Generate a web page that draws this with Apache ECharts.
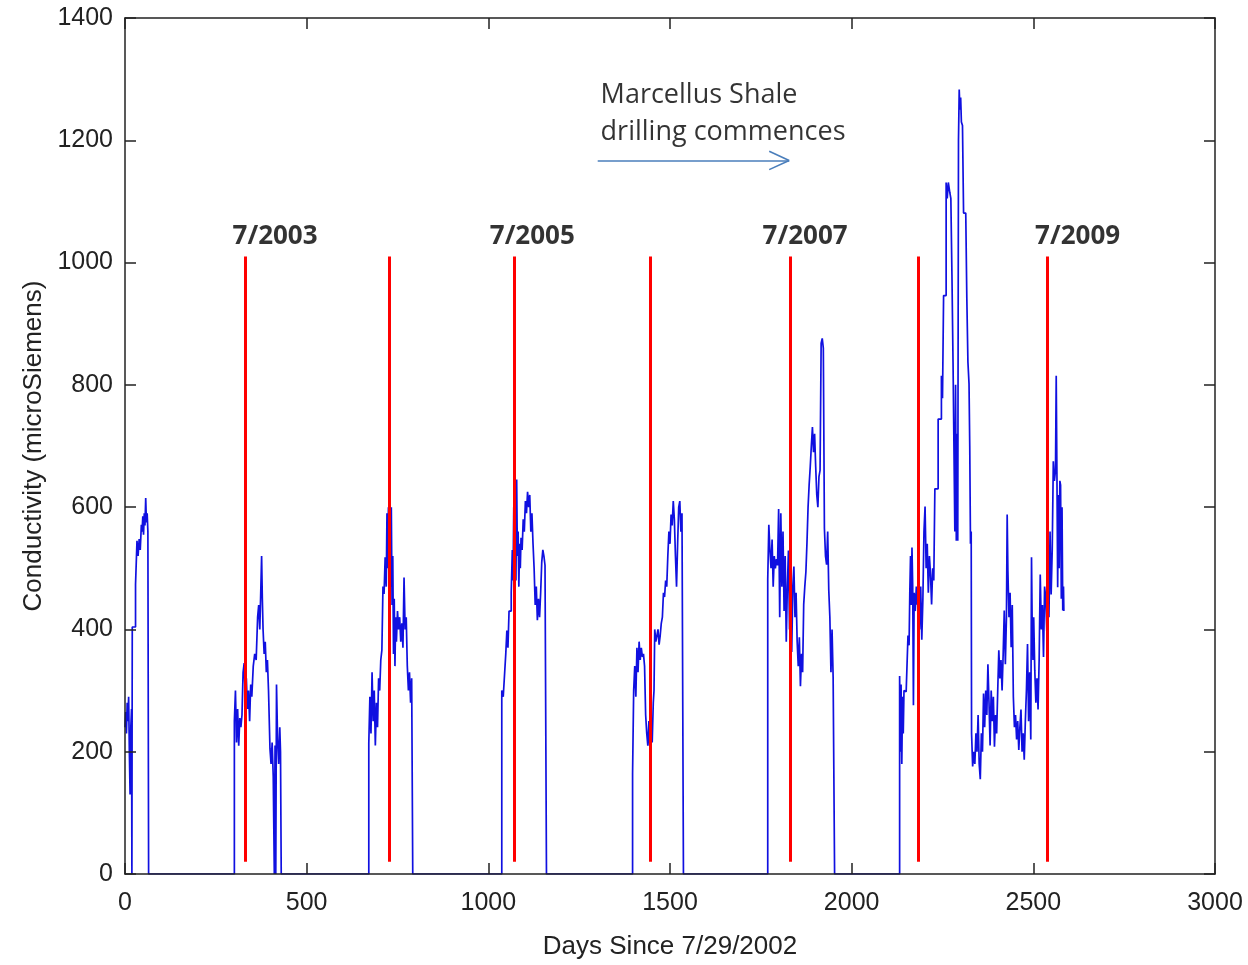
<!DOCTYPE html>
<html>
<head>
<meta charset="utf-8">
<script src="https://cdn.jsdelivr.net/npm/echarts@6.0.0/dist/echarts.min.js"></script>
<style>
  html, body { margin: 0; padding: 0; background: #ffffff; }
  #chart { width: 1248px; height: 965px; }
</style>
</head>
<body>
<div id="chart"></div>
<script>
// ---------------- DATA ----------------
// Each segment: [day since 7/29/2002, conductivity (microSiemens)]
const segment1 = [[0,240],[2,265],[4,230],[6,280],[8,250],[10,290],[12,200],[14,130],[16,240],[18,270],[19,0],[20,404],[29,474],[33,545],[36,520],[39,548],[42,530],[45,571],[47,560],[49,585],[51,555],[53,590],[55,570],[57,615],[59,575],[61,590],[63,560],[65,0]];
const segment2 = [[301,250],[304,300],[307,215],[310,270],[313,210],[316,255],[319,240],[322,260],[325,330],[328,345],[331,290],[334,320],[337,270],[340,300],[343,250],[346,310],[349,290],[353,340],[357,360],[361,350],[365,420],[368,440],[371,400],[374,470],[376,520],[378,450],[380,400],[383,360],[386,380],[389,330],[392,350],[395,300],[399,205],[402,180],[405,215],[408,160],[411,0],[413,210],[415,0],[417,310],[420,220],[423,180],[426,240],[428,200],[430,0]];
const segment3 = [[671,214],[674,290],[677,230],[680,330],[683,250],[686,300],[689,210],[692,280],[695,240],[698,320],[701,300],[704,350],[707,366],[710,470],[713,458],[716,518],[719,470],[721,590],[723,500],[725,600],[727,420],[729,560],[731,470],[733,600],[735,440],[737,520],[739,360],[741,450],[743,340],[745,420],[747,380],[750,430],[753,400],[756,420],[759,380],[762,410],[765,370],[768,485],[771,400],[774,420],[777,340],[780,300],[783,330],[786,280],[789,320],[792,0]];
const segment4 = [[1037,300],[1041,290],[1045,330],[1048,360],[1051,398],[1054,370],[1057,430],[1060,430],[1063,460],[1066,530],[1068,480],[1070,600],[1072,500],[1074,620],[1076,480],[1078,645],[1080,520],[1082,560],[1084,470],[1086,540],[1088,500],[1090,550],[1093,530],[1096,580],[1099,560],[1102,610],[1105,590],[1108,625],[1111,600],[1114,620],[1117,560],[1120,590],[1123,540],[1126,500],[1129,440],[1132,470],[1135,415],[1138,450],[1141,420],[1144,460],[1147,510],[1150,530],[1153,520],[1156,505],[1160,0]];
const segment5 = [[1397,164],[1400,300],[1403,340],[1406,290],[1409,370],[1412,330],[1415,380],[1418,350],[1421,370],[1424,355],[1427,360],[1430,340],[1433,260],[1436,230],[1439,210],[1442,250],[1445,200],[1448,240],[1451,215],[1454,280],[1456,300],[1458,400],[1461,380],[1464,390],[1467,400],[1470,375],[1473,390],[1476,410],[1479,420],[1482,460],[1485,453],[1488,480],[1491,470],[1494,520],[1497,560],[1500,540],[1503,588],[1506,570],[1509,610],[1512,580],[1515,520],[1518,470],[1521,540],[1524,600],[1527,610],[1530,560],[1533,590],[1537,0]];
const segment6 = [[1769,482],[1772,571],[1775,530],[1778,500],[1781,547],[1784,470],[1787,520],[1790,500],[1793,515],[1796,505],[1799,597],[1802,420],[1805,590],[1808,470],[1811,560],[1814,430],[1817,520],[1820,380],[1823,470],[1826,529],[1829,400],[1832,480],[1835,363],[1838,470],[1841,503],[1844,420],[1847,460],[1850,380],[1853,340],[1856,387],[1859,307],[1862,360],[1865,330],[1868,441],[1871,470],[1874,494],[1877,542],[1880,600],[1883,637],[1886,666],[1889,700],[1892,731],[1895,690],[1898,720],[1901,666],[1904,620],[1907,600],[1910,650],[1913,660],[1916,868],[1919,876],[1922,860],[1925,565],[1928,520],[1931,506],[1934,560],[1937,464],[1940,420],[1943,330],[1946,400],[1949,322],[1953,0]];
const segment7 = [[2132,324],[2134,200],[2136,310],[2138,180],[2140,290],[2142,230],[2144,300],[2146,298],[2150,298],[2155,390],[2158,374],[2160,460],[2162,520],[2164,440],[2166,534],[2168,470],[2170,276],[2172,460],[2175,430],[2178,470],[2181,440],[2184,500],[2187,400],[2190,470],[2193,383],[2196,450],[2199,560],[2202,601],[2205,500],[2208,540],[2211,460],[2214,520],[2217,490],[2220,441],[2223,500],[2226,480],[2229,630],[2234,630],[2238,744],[2243,744],[2247,815],[2250,778],[2253,946],[2256,946],[2260,1131],[2263,1105],[2266,1131],[2270,1115],[2273,1105],[2276,980],[2279,837],[2282,837],[2284,560],[2286,800],[2288,545],[2290,720],[2292,545],[2294,1200],[2296,1283],[2298,1250],[2300,1270],[2302,1230],[2305,1224],[2308,1081],[2311,1081],[2314,1081],[2317,940],[2320,837],[2323,802],[2325,700],[2327,540],[2329,560],[2330,230],[2333,176],[2336,200],[2339,180],[2342,230],[2345,200],[2348,260],[2351,180],[2354,155],[2357,230],[2360,200],[2363,295],[2366,240],[2369,300],[2372,260],[2375,343],[2378,280],[2381,210],[2384,300],[2387,250],[2390,290],[2393,208],[2396,260],[2399,230],[2402,300],[2405,366],[2408,320],[2411,350],[2414,300],[2417,360],[2420,431],[2423,343],[2426,420],[2428,588],[2430,496],[2433,420],[2436,460],[2439,371],[2442,440],[2445,290],[2448,240],[2451,260],[2454,220],[2457,250],[2460,203],[2463,240],[2466,269],[2469,200],[2472,230],[2475,187],[2478,250],[2481,300],[2484,376],[2487,250],[2490,330],[2493,220],[2495,518],[2497,400],[2499,350],[2501,420],[2504,333],[2507,280],[2510,320],[2513,269],[2516,350],[2519,490],[2522,400],[2525,440],[2528,355],[2531,470],[2534,452],[2537,398],[2540,430],[2543,420],[2546,560],[2549,457],[2552,530],[2555,675],[2558,643],[2561,660],[2563,815],[2565,650],[2567,469],[2569,620],[2571,500],[2573,643],[2575,636],[2577,450],[2579,600],[2581,431],[2583,470],[2584,430]];

// Red vertical marker lines (days) and their vertical extent (microSiemens)
const redLineDays = [330, 728, 1070, 1445, 1831, 2184, 2537];
const redLineRange = [20, 1010];

// Year annotations
const yearLabels = ['7/2003', '7/2005', '7/2007', '7/2009'];
const yearLabelDays = [413, 1121, 1872, 2622];
const yearLabelLevel = 1043;

// "Marcellus Shale drilling commences" annotation and arrow
const noteText = 'Marcellus Shale\ndrilling commences';
const notePoint = [1309, 1243];
const arrowFrom = [1301, 1167];
const arrowTo = [1828, 1167];
const arrowHead = [55, 15]; // back-length (days), half-spread (microSiemens)

// Axes
const xTicks = [0, 500, 1000, 1500, 2000, 2500, 3000];
const yTicks = [0, 200, 400, 600, 800, 1000, 1200, 1400];

// ---------------- CHART ----------------
const conductivity = [].concat(segment1, segment2, segment3, segment4, segment5, segment6, segment7);

const axisColor = '#222222';
const tickFont = { fontFamily: 'Liberation Sans', fontSize: 25, color: '#222222', formatter: v => String(v) };

const redLines = redLineDays.map(d => [
  { coord: [d, redLineRange[0]] },
  { coord: [d, redLineRange[1]] }
]);

const arrowLines = [
  [{ coord: arrowFrom }, { coord: arrowTo }],
  [{ coord: arrowTo }, { coord: [arrowTo[0] - arrowHead[0], arrowTo[1] + arrowHead[1]] }],
  [{ coord: arrowTo }, { coord: [arrowTo[0] - arrowHead[0], arrowTo[1] - arrowHead[1]] }]
];

const chart = echarts.init(document.getElementById('chart'), null, { renderer: 'canvas' });

const baseX = {
  type: 'value', min: xTicks[0], max: xTicks[xTicks.length - 1], interval: 500,
  z: 10,
  splitLine: { show: false },
  axisLine: { show: true, onZero: false, lineStyle: { color: axisColor, width: 1.5 } },
  axisTick: { show: true, inside: true, length: 11, lineStyle: { color: axisColor, width: 1.5 } }
};
const baseY = {
  type: 'value', min: yTicks[0], max: yTicks[yTicks.length - 1], interval: 200,
  z: 10,
  splitLine: { show: false },
  axisLine: { show: true, onZero: false, lineStyle: { color: axisColor, width: 1.5 } },
  axisTick: { show: true, inside: true, length: 11, lineStyle: { color: axisColor, width: 1.5 } }
};

chart.setOption({
  animation: false,
  backgroundColor: '#ffffff',
  grid: { left: 125, right: 33, top: 18, bottom: 87, containLabel: false },
  xAxis: [
    Object.assign({}, baseX, {
      position: 'bottom',
      axisLabel: Object.assign({ margin: 17 }, tickFont),
      name: 'Days Since 7/29/2002', nameLocation: 'middle', nameGap: 60,
      nameTextStyle: { fontFamily: 'Liberation Sans', fontSize: 26, color: '#222222' }
    }),
    Object.assign({}, baseX, { position: 'top', axisLabel: { show: false } })
  ],
  yAxis: [
    Object.assign({}, baseY, {
      position: 'left',
      axisLabel: Object.assign({ margin: 12 }, tickFont),
      name: 'Conductivity (microSiemens)', nameLocation: 'middle', nameGap: 78,
      nameTextStyle: { fontFamily: 'Liberation Sans', fontSize: 26, color: '#222222' }
    }),
    Object.assign({}, baseY, { position: 'right', axisLabel: { show: false } })
  ],
  series: [
    {
      type: 'line',
      xAxisIndex: 0, yAxisIndex: 0,
      step: 'end',
      data: conductivity,
      symbol: 'none',
      lineStyle: { color: '#1010e0', width: 1.7 },
      z: 2
    },
    {
      type: 'line',
      xAxisIndex: 0, yAxisIndex: 0,
      data: [],
      markLine: {
        silent: true, symbol: ['none', 'none'],
        label: { show: false },
        lineStyle: { color: '#ff0000', width: 3, type: 'solid' },
        data: redLines
      },
      z: 3
    },
    {
      type: 'line',
      xAxisIndex: 0, yAxisIndex: 0,
      data: [],
      markLine: {
        silent: true, symbol: ['none', 'none'],
        label: { show: false },
        lineStyle: { color: '#4a7ebb', width: 1.6, type: 'solid' },
        data: arrowLines
      },
      z: 3
    },
    {
      type: 'scatter',
      xAxisIndex: 0, yAxisIndex: 0,
      symbolSize: 0,
      silent: true,
      data: yearLabels.map((t, i) => ({ name: t, value: [yearLabelDays[i], yearLabelLevel] })),
      label: {
        show: true, position: 'inside', formatter: p => p.name,
        fontFamily: 'Open Sans', fontWeight: 'bold', fontSize: 26, color: '#000000'
      },
      z: 4
    },
    {
      type: 'scatter',
      xAxisIndex: 0, yAxisIndex: 0,
      symbolSize: 0,
      silent: true,
      data: [{ name: noteText, value: notePoint }],
      label: {
        show: true, position: 'right', distance: 0, formatter: p => p.name,
        align: 'left', lineHeight: 37,
        fontFamily: 'Open Sans', fontSize: 27, color: '#000000'
      },
      z: 4
    }
  ]
});
</script>
</body>
</html>
